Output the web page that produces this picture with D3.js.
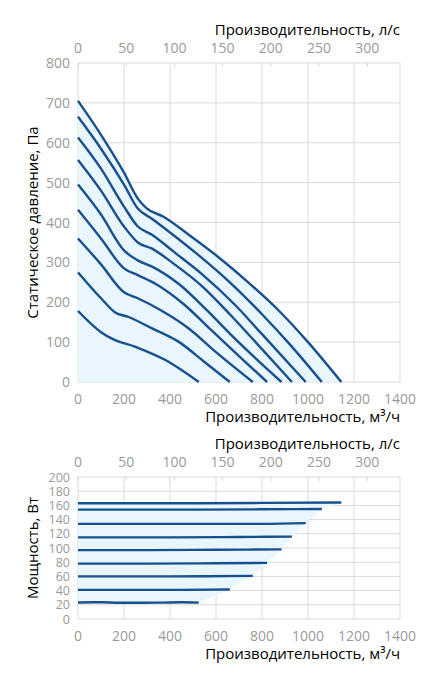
<!DOCTYPE html>
<html><head><meta charset="utf-8">
<script src="https://cdn.jsdelivr.net/npm/d3@7"></script>
<style>body{margin:0;background:#fff}text{font-family:"Open Sans",sans-serif}</style>
</head><body><svg id="c" width="443" height="676"></svg>
<script>
// pressure curves, m³/h vs Pa
const pressure_curves = [
  [[0,705],[100,620],[200,525],[260,460],[300,435],[370,415],[480,370],[600,318],[740,250],[880,175],[1000,100],[1145,0]],
  [[0,665],[100,585],[200,495],[260,435],[320,410],[400,375],[520,320],[660,250],[800,170],[920,95],[1060,0]],
  [[0,613],[100,535],[200,440],[260,390],[320,370],[420,325],[540,270],[680,195],[800,120],[990,0]],
  [[0,557],[100,480],[200,390],[260,350],[320,335],[420,295],[540,240],[660,170],[780,95],[930,0]],
  [[0,495],[100,420],[200,330],[260,305],[320,290],[440,245],[560,180],[680,110],[885,0]],
  [[0,432],[100,360],[200,285],[260,268],[340,245],[460,195],[580,130],[700,65],[822,0]],
  [[0,360],[100,295],[200,225],[260,210],[360,180],[480,135],[600,75],[760,0]],
  [[0,275],[100,210],[160,175],[220,163],[320,135],[440,100],[550,50],[660,0]],
  [[0,178],[100,125],[150,108],[250,88],[380,55],[450,30],[525,0]]
];
// power curves, m³/h vs W
const power_curves = [
  [[0,163],[400,163],[800,163.5],[1145,164]],
  [[0,154],[400,154],[800,154.5],[1060,155]],
  [[0,134],[400,134],[800,134],[990,135]],
  [[0,115],[400,115],[700,115.5],[930,116]],
  [[0,97],[300,97],[600,97.5],[885,98]],
  [[0,78],[300,78],[600,78.5],[822,79]],
  [[0,60],[300,60],[550,60.3],[760,60.8]],
  [[0,41],[200,41],[450,41],[660,41.5]],
  [[0,23.3],[100,23.6],[180,22.8],[350,23],[450,23.6],[525,23]]
];
const flow_ticks = [0,200,400,600,800,1000,1200,1400];
const ls_ticks = [0,50,100,150,200,250,300];
const pressure_ticks = [0,100,200,300,400,500,600,700,800];
const power_ticks = [0,20,40,60,80,100,120,140,160,180,200];

const svg = d3.select("#c");
const LINE = "#17508e", FILL = "#e9f6fd", GRID = "#d9d9d9", TICK = "#9a9a9a";
const x = d3.scaleLinear().domain([0,1400]).range([78,400]);
const xls = d3.scaleLinear().domain([0,334]).range([78,400]);

function panel(y, ticks, top, bottom, ylabel, ylabelX, yfs) {
  const g = svg.append("g");
  ticks.forEach(t => g.append("line").attr("x1",78).attr("x2",400).attr("y1",y(t)).attr("y2",y(t)).attr("stroke",GRID));
  flow_ticks.forEach(t => g.append("line").attr("x1",x(t)).attr("x2",x(t)).attr("y1",top).attr("y2",bottom).attr("stroke",GRID));
  ls_ticks.forEach(t => g.append("line").attr("x1",xls(t)).attr("x2",xls(t)).attr("y1",top).attr("y2",top+4).attr("stroke",GRID));
  const fs = 14;
  ticks.forEach(t => g.append("text").attr("x",70).attr("y",y(t)+yfs*0.36).attr("text-anchor","end").attr("font-size",yfs).attr("fill",TICK).text(t));
  flow_ticks.forEach(t => g.append("text").attr("x",x(t)).attr("y",bottom+22).attr("text-anchor","middle").attr("font-size",fs).attr("fill",TICK).text(t));
  ls_ticks.forEach(t => g.append("text").attr("x",xls(t)).attr("y",top-10).attr("text-anchor","middle").attr("font-size",fs).attr("fill",TICK).text(t));
  g.append("text").attr("x",400).attr("y",bottom+40).attr("text-anchor","end").attr("font-size",15).text("Производительность, м³/ч");
  g.append("text").attr("x",400).attr("y",top-28).attr("text-anchor","end").attr("font-size",15).text("Производительность, л/с");
  g.append("text").attr("transform",`translate(${ylabelX},${(top+bottom)/2}) rotate(-90)`).attr("text-anchor","middle").attr("font-size",15).text(ylabel);
  return g;
}

// top chart
const y1 = d3.scaleLinear().domain([0,800]).range([382,63]);
const g1 = panel(y1, pressure_ticks, 63, 382, "Статическое давление, Па", 38, 14);
const area1 = d3.area().x(d=>x(d[0])).y0(y1(0)).y1(d=>y1(d[1])).curve(d3.curveMonotoneX);
g1.insert("path", "text").attr("d", area1(pressure_curves[0])).attr("fill", FILL);
const line1 = d3.line().x(d=>x(d[0])).y(d=>y1(d[1])).curve(d3.curveMonotoneX);
pressure_curves.forEach(c => g1.append("path").attr("d", line1(c)).attr("fill","none").attr("stroke",LINE).attr("stroke-width",2.4));

// bottom chart
const y2 = d3.scaleLinear().domain([0,200]).range([619,477]);
const g2 = panel(y2, power_ticks, 477, 619, "Мощность, Вт", 38, 12.5);
const top_curve = power_curves[0];
const ends = power_curves.map(c => c[c.length-1]);
const outline = [[0, top_curve[0][1]], ...ends, [0, ends[ends.length-1][1]]];
g2.insert("path","text").attr("d", d3.line().x(d=>x(d[0])).y(d=>y2(d[1]))(outline)).attr("fill", FILL);
const line2 = d3.line().x(d=>x(d[0])).y(d=>y2(d[1])).curve(d3.curveMonotoneX);
power_curves.forEach(c => g2.append("path").attr("d", line2(c)).attr("fill","none").attr("stroke",LINE).attr("stroke-width",2.4));
</script></body></html>
